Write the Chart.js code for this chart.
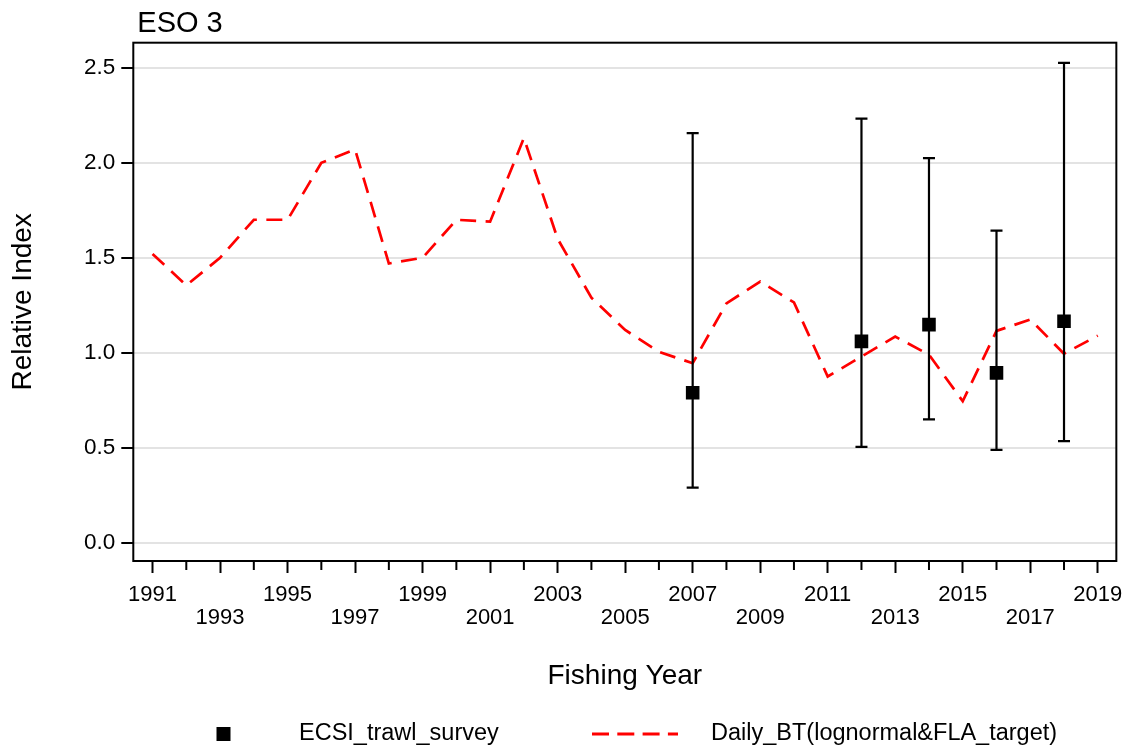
<!DOCTYPE html>
<html>
<head>
<meta charset="utf-8">
<script src="https://cdn.jsdelivr.net/npm/chart.js@4/dist/chart.umd.min.js"></script>
<style>
  html, body { margin: 0; padding: 0; background: #fff; }
  #wrap { width: 1133px; height: 749px; }
</style>
</head>
<body>
<div id="wrap"><canvas id="chart" width="1133" height="749"></canvas></div>
<script>
// Daily_BT standardised CPUE (red dashed line)
const btYears = [1991, 1992, 1993, 1994, 1995, 1996, 1997, 1998, 1999, 2000,
                 2001, 2002, 2003, 2004, 2005, 2006, 2007, 2008, 2009, 2010,
                 2011, 2012, 2013, 2014, 2015, 2016, 2017, 2018, 2019];
const btIndex = [1.52, 1.355, 1.50, 1.70, 1.70, 2.00, 2.07, 1.47, 1.50, 1.70,
                 1.69, 2.13, 1.60, 1.29, 1.12, 1.005, 0.945, 1.26, 1.375, 1.265,
                 0.875, 0.98, 1.085, 0.99, 0.745, 1.115, 1.175, 0.995, 1.09];

// ECSI trawl survey with confidence intervals
const surveyYears = [2007, 2012, 2014, 2016, 2018];
const surveyIndex = [0.79, 1.06, 1.148, 0.894, 1.166];
const surveyLower = [0.29, 0.505, 0.649, 0.489, 0.535];
const surveyUpper = [2.156, 2.232, 2.025, 1.643, 2.526];

const xTickYears = btYears;
const yTickValues = [0, 0.5, 1.0, 1.5, 2.0, 2.5];

const FONT = '"Liberation Sans", Arial, sans-serif';
Chart.defaults.font.family = FONT;
Chart.defaults.color = '#000';

// error bars under the survey squares
const errorBars = {
    id: 'errorBars',
    beforeDatasetDraw(chart, args) {
        if (args.index !== 0) return;
        const { ctx, scales: { x, y } } = chart;
        ctx.save();
        ctx.strokeStyle = '#000';
        ctx.lineWidth = 2.2;
        surveyYears.forEach((yr, i) => {
            const px = x.getPixelForValue(yr);
            const top = y.getPixelForValue(surveyUpper[i]);
            const bot = y.getPixelForValue(surveyLower[i]);
            ctx.beginPath();
            ctx.moveTo(px, top); ctx.lineTo(px, bot);
            ctx.moveTo(px - 6, top); ctx.lineTo(px + 6, top);
            ctx.moveTo(px - 6, bot); ctx.lineTo(px + 6, bot);
            ctx.stroke();
        });
        ctx.restore();
    }
};

// frame, short minor ticks, panel title and bottom legend
const decorations = {
    id: 'decorations',
    afterDraw(chart) {
        const { ctx, chartArea: a, scales: { x } } = chart;
        ctx.save();
        ctx.strokeStyle = '#000';
        ctx.lineWidth = 2;
        ctx.strokeRect(a.left, a.top, a.right - a.left, a.bottom - a.top);

        ctx.beginPath();
        xTickYears.filter((yr) => yr % 2 === 0).forEach((yr) => {
            const px = x.getPixelForValue(yr);
            ctx.moveTo(px, a.bottom);
            ctx.lineTo(px, a.bottom + 9);
        });
        ctx.stroke();

        ctx.fillStyle = '#000';
        ctx.font = '29px ' + FONT;
        ctx.textBaseline = 'alphabetic';
        ctx.textAlign = 'left';
        ctx.fillText('ESO 3', a.left + 4, 32);

        // legend
        const ly = 734;
        const [survey, bt] = chart.data.datasets;
        ctx.fillStyle = survey.backgroundColor;
        ctx.fillRect(216.5, ly - 7, 14, 14);
        ctx.font = '23.5px ' + FONT;
        ctx.textBaseline = 'middle';
        ctx.fillStyle = '#000';
        ctx.fillText(survey.label, 299, ly);

        ctx.strokeStyle = bt.borderColor;
        ctx.lineWidth = 3;
        ctx.setLineDash([17, 8.3]);
        ctx.beginPath();
        ctx.moveTo(592, ly);
        ctx.lineTo(678, ly);
        ctx.stroke();
        ctx.setLineDash([]);
        ctx.fillText(bt.label, 711, ly);
        ctx.restore();
    }
};

new Chart(document.getElementById('chart'), {
    type: 'line',
    data: {
        datasets: [
            {
                label: 'ECSI_trawl_survey',
                data: surveyYears.map((yr, i) => ({ x: yr, y: surveyIndex[i] })),
                showLine: false,
                pointStyle: 'rect',
                pointRadius: 9.6,
                pointBorderWidth: 0,
                backgroundColor: '#000',
                borderColor: '#000'
            },
            {
                label: 'Daily_BT(lognormal&FLA_target)',
                data: btYears.map((yr, i) => ({ x: yr, y: btIndex[i] })),
                borderColor: '#ff0000',
                borderWidth: 2.7,
                borderDash: [16, 9.5],
                borderCapStyle: 'butt',
                pointRadius: 0,
                tension: 0,
                fill: false
            }
        ]
    },
    options: {
        responsive: false,
        animation: false,
        devicePixelRatio: 1,
        layout: { padding: { left: 9.5, top: 42.7, right: 13.7, bottom: 59 } },
        plugins: {
            legend: { display: false },
            tooltip: { enabled: false },
            title: { display: false }
        },
        scales: {
            x: {
                type: 'linear',
                min: 1990.43,
                max: 2019.55,
                afterBuildTicks: (scale) => { scale.ticks = xTickYears.map((v) => ({ value: v })); },
                afterFit: (scale) => { scale.height = 129; },
                border: { display: false },
                grid: {
                    drawOnChartArea: false,
                    drawTicks: true,
                    tickLength: 12,
                    tickWidth: 2,
                    tickColor: (ctx) => (ctx.tick && ctx.tick.value % 2 === 1 ? '#000' : 'rgba(0,0,0,0)')
                },
                ticks: {
                    autoSkip: false,
                    maxRotation: 0,
                    padding: 10.5,
                    font: { size: 22, lineHeight: 1.05 },
                    callback: (v) => {
                        if (v % 2 === 0) return '';
                        const k = (v - 1991) / 2;
                        return k % 2 === 0 ? String(v) : ['', String(v)];
                    }
                },
                title: {
                    display: true,
                    text: 'Fishing Year',
                    font: { size: 28, lineHeight: 1 },
                    padding: 0
                }
            },
            y: {
                min: -0.096,
                max: 2.632,
                afterBuildTicks: (scale) => { scale.ticks = yTickValues.map((v) => ({ value: v })); },
                afterFit: (scale) => { scale.width = 123.8; },
                border: { display: false },
                grid: {
                    color: '#e3e3e3',
                    lineWidth: 2,
                    tickColor: '#000',
                    tickLength: 12,
                    tickWidth: 2
                },
                ticks: {
                    padding: 6,
                    font: { size: 22.5 },
                    callback: (v) => v.toFixed(1)
                },
                title: {
                    display: true,
                    text: 'Relative Index',
                    font: { size: 28, lineHeight: 1 },
                    padding: 0
                }
            }
        }
    },
    plugins: [errorBars, decorations]
});
</script>
</body>
</html>
